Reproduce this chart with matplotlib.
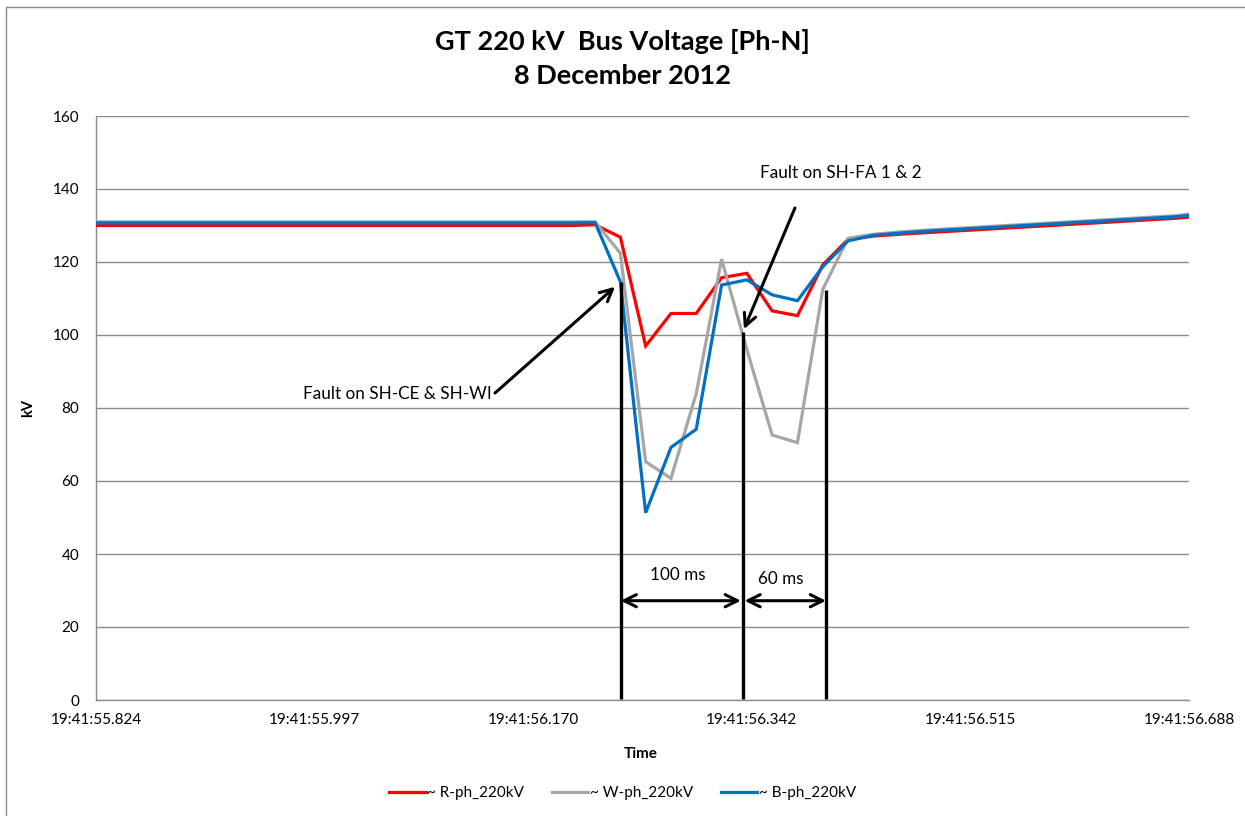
import matplotlib
matplotlib.use("Agg")
import matplotlib.pyplot as plt
from matplotlib.patches import Rectangle
from matplotlib.ticker import FuncFormatter
import numpy as np

plt.rcParams['font.family'] = ['Lato', 'DejaVu Sans']

# ---------------- data (seconds within 19:41) ----------------
times = [55.824, 55.997, 56.170, 56.1985,
         56.2185, 56.2385, 56.2585, 56.2785, 56.2985, 56.3185,
         56.3385, 56.3585, 56.3785, 56.3985, 56.4185,
         56.4385, 56.4585, 56.4785, 56.4985, 56.5185, 56.5385,
         56.5585, 56.5785, 56.5985, 56.6185, 56.6385, 56.6585,
         56.6785, 56.688]

r_ph = [130.0, 130.0, 130.0, 130.0,
        130.2, 126.8, 97.0, 105.9, 105.9, 115.7,
        116.9, 106.6, 105.3, 119.2, 126.2,
        127.1, 127.6, 128.0, 128.4, 128.8, 129.2,
        129.6, 130.0, 130.4, 130.8, 131.2, 131.6,
        132.0, 132.3]

w_ph = [131.0, 131.0, 131.0, 131.0,
        131.0, 122.4, 65.3, 60.7, 84.0, 120.8,
        96.0, 72.6, 70.5, 112.5, 126.5,
        127.6, 128.2, 128.7, 129.1, 129.5, 129.9,
        130.3, 130.7, 131.1, 131.5, 131.9, 132.3,
        132.7, 133.1]

b_ph = [130.7, 130.7, 130.7, 130.7,
        130.8, 114.6, 51.3, 69.2, 74.2, 113.7,
        115.1, 111.0, 109.4, 118.7, 125.8,
        127.3, 127.9, 128.4, 128.8, 129.2, 129.6,
        130.0, 130.4, 130.8, 131.2, 131.6, 132.0,
        132.4, 132.8]

series_names = ['~ R-ph_220kV', '~ W-ph_220kV', '~ B-ph_220kV']
series_colors = ['#FF0000', '#A6A6A6', '#0070C0']

x_ticks = [55.824, 55.9968, 56.1696, 56.3424, 56.5152, 56.688]
y_ticks = [0, 20, 40, 60, 80, 100, 120, 140, 160]

# fault markers (time, top of line in kV)
fault_times = [56.2388, 56.3352, 56.4010]
fault_tops = [114.4, 100.9, 112.3]

# ---------------- figure ----------------
fig = plt.figure(figsize=(12.45, 8.16), dpi=100)
fig.patches.append(Rectangle((6/1245, -0.01), 1.2, (816-7)/816 + 0.01,
                             transform=fig.transFigure, fill=False,
                             edgecolor='#8C8C8C', linewidth=1.0))

ax = fig.add_axes([96/1245, 1-700/816, 1093/1245, 584/816])

for vals, name, col in zip([r_ph, w_ph, b_ph], series_names, series_colors):
    ax.plot(times, vals, color=col, lw=2.3, label=name, solid_joinstyle='miter', zorder=3)

ax.set_xlim(x_ticks[0], x_ticks[-1])
ax.set_ylim(0, 160)
ax.set_xticks(x_ticks)
ax.set_yticks(y_ticks)
ax.xaxis.set_major_formatter(FuncFormatter(lambda v, p: "19:41:%06.3f" % v))
ax.tick_params(axis='both', length=0, labelsize=11, colors='#000000')
ax.tick_params(axis='x', pad=9)
ax.tick_params(axis='y', pad=12)
ax.grid(axis='y', color='#8C8C8C', lw=1.0, zorder=0)
for s in ['top', 'right']:
    ax.spines[s].set_visible(False)
for s in ['left', 'bottom']:
    ax.spines[s].set_color('#8C8C8C')
    ax.spines[s].set_linewidth(1.0)

ax.set_ylabel('kV', fontsize=10.5, fontweight='bold', rotation=90)
ax.yaxis.set_label_coords(-0.056, 0.5)
ax.set_xlabel('Time', fontsize=11, fontweight='bold')
ax.xaxis.set_label_coords(0.4986, -0.080)

fig.text(0.5, 1-42/816, 'GT 220 kV  Bus Voltage [Ph-N]', ha='center', va='center',
         fontsize=19.5, fontweight='bold')
fig.text(0.5, 1-76/816, '8 December 2012', ha='center', va='center',
         fontsize=19.5, fontweight='bold')

# vertical fault lines
for t, top in zip(fault_times, fault_tops):
    ax.plot([t, t], [0.4, top], color='black', lw=2.4, zorder=4, solid_capstyle='butt')

# duration arrows
arr = dict(arrowstyle='<->', color='black', lw=2.2, mutation_scale=22,
           shrinkA=0, shrinkB=0)
ax.annotate('', xy=(fault_times[0], 27.2), xytext=(fault_times[1] - 0.0015, 27.2),
            arrowprops=arr, zorder=5)
ax.annotate('', xy=(fault_times[1] + 0.0015, 27.2), xytext=(fault_times[2], 27.2),
            arrowprops=arr, zorder=5)
ax.text(56.284, 34.2, '100 ms', ha='center', va='center', fontsize=12.3)
ax.text(56.3655, 33.2, '60 ms', ha='center', va='center', fontsize=12.3)

# fault annotations
ann = dict(arrowstyle='->', color='black', lw=2.2, mutation_scale=22,
           shrinkA=0, shrinkB=0)
ax.annotate('', xy=(56.2343, 113.2), xytext=(56.1394, 84.1), arrowprops=ann, zorder=5)
ax.text(56.0619, 83.8, 'Fault on SH-CE & SH-WI', ha='center', va='center', fontsize=12.3)
ax.annotate('', xy=(56.3362, 101.6), xytext=(56.3765, 134.8), arrowprops=ann, zorder=5)
ax.text(56.4129, 144.4, 'Fault on SH-FA 1 & 2', ha='center', va='center', fontsize=12.3)

fig.legend(loc='center', bbox_to_anchor=(0.5, 1-793/816), ncol=3, frameon=False,
           fontsize=11, handlelength=2.4, handletextpad=0.1, columnspacing=1.8)

fig.savefig('out.png', dpi=100)
